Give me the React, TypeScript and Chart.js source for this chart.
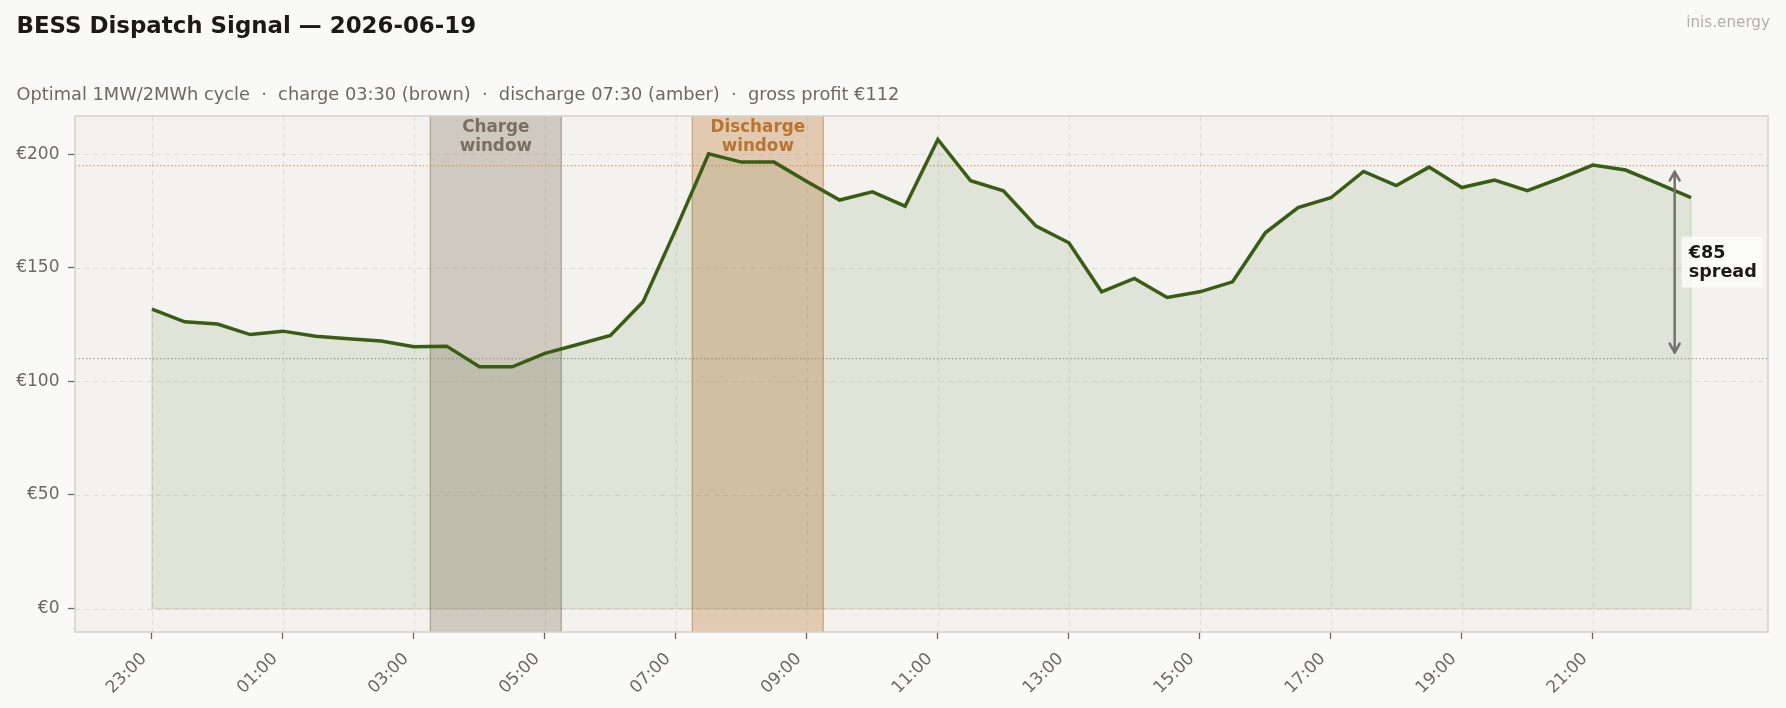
import { useEffect, useRef } from "react";
import { Chart, registerables } from "chart.js";

Chart.register(...registerables);

// ---------- data ----------
const times = [
  "23:00", "23:30", "00:00", "00:30", "01:00", "01:30", "02:00", "02:30",
  "03:00", "03:30", "04:00", "04:30", "05:00", "05:30", "06:00", "06:30",
  "07:00", "07:30", "08:00", "08:30", "09:00", "09:30", "10:00", "10:30",
  "11:00", "11:30", "12:00", "12:30", "13:00", "13:30", "14:00", "14:30",
  "15:00", "15:30", "16:00", "16:30", "17:00", "17:30", "18:00", "18:30",
  "19:00", "19:30", "20:00", "20:30", "21:00", "21:30", "22:00", "22:30",
];
const prices = [
  131.8, 126.2, 125.2, 120.6, 122.1, 119.9, 118.7, 117.8,
  115.2, 115.5, 106.4, 106.4, 112.3, 116.2, 120.2, 135.0,
  167.0, 200.2, 196.5, 196.5, 188.0, 179.8, 183.4, 177.1,
  206.5, 188.3, 183.9, 168.3, 161.0, 139.4, 145.3, 136.9,
  139.4, 143.8, 165.4, 176.5, 180.8, 192.4, 186.2, 194.3,
  185.3, 188.6, 183.9, 189.3, 195.2, 193.0, 187.0, 180.9,
];
const xTickLabels = ["23:00", "01:00", "03:00", "05:00", "07:00", "09:00", "11:00", "13:00", "15:00", "17:00", "19:00", "21:00"];
const yTickValues = [0, 50, 100, 150, 200];
const chargeWindow = ["03:15", "05:15"];
const dischargeWindow = ["07:15", "09:15"];
const chargeLabel = ["Charge", "window"];
const dischargeLabel = ["Discharge", "window"];
const chargeLevel = 110;
const dischargeLevel = 195;
const spreadTime = "22:15";
const spreadLabel = ["€85", "spread"];
const titleText = "BESS Dispatch Signal — 2026-06-19";
const subtitleText = "Optimal 1MW/2MWh cycle  ·  charge 03:30 (brown)  ·  discharge 07:30 (amber)  ·  gross profit €112";
const watermarkText = "inis.energy";

const FONT = '"DejaVu Sans", sans-serif';

function toHours(t: string): number {
  const [h, m] = t.split(":").map(Number);
  return (h + m / 60 - 23 + 24) % 24;
}

const customPlugin = {
  id: "custom",
  beforeDraw(chart: any) {
    const { ctx, chartArea: ca, scales } = chart;
    ctx.save();
    ctx.fillStyle = "#f9f9f7";
    ctx.fillRect(0, 0, chart.width, chart.height);
    ctx.fillStyle = "#f3f2ef";
    ctx.fillRect(ca.left, ca.top, ca.right - ca.left, ca.bottom - ca.top);
    // dashed grid
    ctx.strokeStyle = "rgba(200,194,184,0.45)";
    ctx.lineWidth = 1;
    ctx.setLineDash([5, 4]);
    scales.x.ticks.forEach((t: any) => {
      const x = Math.round(scales.x.getPixelForValue(t.value)) + 0.5;
      ctx.beginPath();
      ctx.moveTo(x, ca.top);
      ctx.lineTo(x, ca.bottom);
      ctx.stroke();
    });
    scales.y.ticks.forEach((t: any) => {
      const y = Math.round(scales.y.getPixelForValue(t.value)) + 0.5;
      ctx.beginPath();
      ctx.moveTo(ca.left, y);
      ctx.lineTo(ca.right, y);
      ctx.stroke();
    });
    ctx.restore();
  },
  beforeDatasetsDraw(chart: any) {
    const { ctx, chartArea: ca, scales } = chart;
    const xs = scales.x, ys = scales.y;
    ctx.save();
    const drawWin = (w: string[], fill: string, edge: string) => {
      const x0 = xs.getPixelForValue(toHours(w[0]));
      const x1 = xs.getPixelForValue(toHours(w[1]));
      ctx.fillStyle = fill;
      ctx.fillRect(x0, ca.top, x1 - x0, ca.bottom - ca.top);
      ctx.strokeStyle = edge;
      ctx.lineWidth = 1.3;
      ctx.beginPath();
      ctx.moveTo(x0, ca.top); ctx.lineTo(x0, ca.bottom);
      ctx.moveTo(x1, ca.top); ctx.lineTo(x1, ca.bottom);
      ctx.stroke();
    };
    drawWin(chargeWindow, "rgba(139,125,107,0.35)", "rgba(139,125,107,0.6)");
    drawWin(dischargeWindow, "rgba(190,110,35,0.3)", "rgba(190,110,35,0.5)");
    // fill edges
    const xa = xs.getPixelForValue(toHours(times[0]));
    const xb = xs.getPixelForValue(toHours(times[times.length - 1]));
    const y0 = ys.getPixelForValue(0);
    ctx.strokeStyle = "rgba(59,94,20,0.14)";
    ctx.lineWidth = 1.2;
    ctx.beginPath();
    ctx.moveTo(xa, ys.getPixelForValue(prices[0]));
    ctx.lineTo(xa, y0);
    ctx.lineTo(xb, y0);
    ctx.lineTo(xb, ys.getPixelForValue(prices[prices.length - 1]));
    ctx.stroke();
    // dotted reference levels
    ctx.lineWidth = 1.2;
    ctx.setLineDash([1.3, 2.4]);
    ctx.strokeStyle = "rgba(214,140,70,0.9)";
    let y = ys.getPixelForValue(dischargeLevel);
    ctx.beginPath(); ctx.moveTo(ca.left, y); ctx.lineTo(ca.right, y); ctx.stroke();
    ctx.strokeStyle = "rgba(140,128,115,0.8)";
    y = ys.getPixelForValue(chargeLevel);
    ctx.beginPath(); ctx.moveTo(ca.left, y); ctx.lineTo(ca.right, y); ctx.stroke();
    ctx.restore();
  },
  afterDatasetsDraw(chart: any) {
    const { ctx, chartArea: ca, scales } = chart;
    const xs = scales.x, ys = scales.y;
    ctx.save();
    // border
    ctx.strokeStyle = "#d5d1cb";
    ctx.lineWidth = 1.5;
    ctx.strokeRect(ca.left, ca.top, ca.right - ca.left, ca.bottom - ca.top);

    // window labels
    ctx.font = `bold 16.8px ${FONT}`;
    ctx.textAlign = "center";
    ctx.textBaseline = "alphabetic";
    const cx = (xs.getPixelForValue(toHours(chargeWindow[0])) + xs.getPixelForValue(toHours(chargeWindow[1]))) / 2;
    ctx.fillStyle = "#7b6e62";
    ctx.fillText(chargeLabel[0], cx, ca.top + 15.7);
    ctx.fillText(chargeLabel[1], cx, ca.top + 34.7);
    const dx = (xs.getPixelForValue(toHours(dischargeWindow[0])) + xs.getPixelForValue(toHours(dischargeWindow[1]))) / 2;
    ctx.fillStyle = "#b9742f";
    ctx.fillText(dischargeLabel[0], dx, ca.top + 15.7);
    ctx.fillText(dischargeLabel[1], dx, ca.top + 34.7);

    // spread arrow
    const ax = xs.getPixelForValue(toHours(spreadTime));
    const yTop = ys.getPixelForValue(dischargeLevel) + 6;
    const yBot = ys.getPixelForValue(chargeLevel) - 6;
    ctx.strokeStyle = "#77716c";
    ctx.lineWidth = 2.5;
    ctx.lineCap = "round";
    ctx.lineJoin = "round";
    ctx.beginPath();
    ctx.moveTo(ax, yTop); ctx.lineTo(ax, yBot);
    ctx.moveTo(ax - 5, yTop + 9); ctx.lineTo(ax, yTop); ctx.lineTo(ax + 5, yTop + 9);
    ctx.moveTo(ax - 5, yBot - 9); ctx.lineTo(ax, yBot); ctx.lineTo(ax + 5, yBot - 9);
    ctx.stroke();

    // spread label box
    const yc = ys.getPixelForValue((dischargeLevel + chargeLevel) / 2);
    const bx = ax + 7;
    ctx.fillStyle = "rgba(252,252,250,0.8)";
    ctx.fillRect(bx, yc - 25.5, 81, 51);
    ctx.fillStyle = "#1c1917";
    ctx.textAlign = "left";
    ctx.font = `bold 17.6px ${FONT}`;
    ctx.fillText(spreadLabel[0], bx + 7, yc - 4.2);
    ctx.fillText(spreadLabel[1], bx + 7, yc + 15.4);

    // titles
    ctx.fillStyle = "#1c1917";
    ctx.font = `bold 22.9px ${FONT}`;
    ctx.fillText(titleText, 16.5, 33.3);
    ctx.fillStyle = "#6e6862";
    ctx.font = `17.8px ${FONT}`;
    ctx.fillText(subtitleText, 16.5, 100.3);
    ctx.fillStyle = "#b3afab";
    ctx.font = `15.2px ${FONT}`;
    ctx.textAlign = "right";
    ctx.fillText(watermarkText, 1770, 27.3);
    ctx.restore();
  },
};

export default function App() {
  const ref = useRef<HTMLCanvasElement | null>(null);
  useEffect(() => {
    document.body.style.margin = "0";
    document.body.style.background = "#f9f9f7";
    const canvas = ref.current;
    if (!canvas) return;
    const xTickHours = xTickLabels.map(toHours);
    const chart = new Chart(canvas, {
      type: "line",
      data: {
        datasets: [
          {
            data: times.map((t, i) => ({ x: toHours(t), y: prices[i] })),
            borderColor: "#3a5d16",
            borderWidth: 3.5,
            pointRadius: 0,
            tension: 0,
            fill: "origin",
            backgroundColor: "rgba(59,94,20,0.1)",
          },
        ],
      },
      plugins: [customPlugin],
      options: {
        animation: false,
        responsive: false,
        devicePixelRatio: 1,
        layout: { padding: { top: 116, right: 18, left: 0, bottom: 0 } },
        plugins: { legend: { display: false }, tooltip: { enabled: false }, title: { display: false } },
        scales: {
          x: {
            type: "linear",
            min: -1.175,
            max: 24.675,
            afterBuildTicks: (s: any) => {
              s.ticks = xTickHours.map((v) => ({ value: v }));
            },
            afterFit: (s: any) => {
              s.height = 76;
            },
            grid: { drawOnChartArea: false, drawTicks: true, tickLength: 7, tickColor: "#6e6862", tickWidth: 1.3, color: "#6e6862" },
            border: { display: false },
            ticks: {
              autoSkip: false,
              minRotation: 45,
              maxRotation: 45,
              padding: 10,
              labelOffset: -8,
              color: "#6e6862",
              font: { family: "DejaVu Sans", size: 17 },
              callback: (_v: any, i: number) => xTickLabels[i],
            },
          },
          y: {
            type: "linear",
            min: -10.33,
            max: 216.8,
            afterBuildTicks: (s: any) => {
              s.ticks = yTickValues.map((v) => ({ value: v }));
            },
            afterFit: (s: any) => {
              s.width = 75;
            },
            grid: { drawOnChartArea: false, drawTicks: true, tickLength: 7, tickColor: "#6e6862", tickWidth: 1.3, color: "#6e6862" },
            border: { display: false },
            ticks: {
              padding: 8.5,
              color: "#6e6862",
              font: { family: "DejaVu Sans", size: 17 },
              callback: (v: any) => "€" + v,
            },
          },
        },
      },
    });
    return () => chart.destroy();
  }, []);
  return (
    <div style={{ width: 1786, height: 708 }}>
      <canvas ref={ref} width={1786} height={708} style={{ display: "block", width: 1786, height: 708 }} />
    </div>
  );
}
